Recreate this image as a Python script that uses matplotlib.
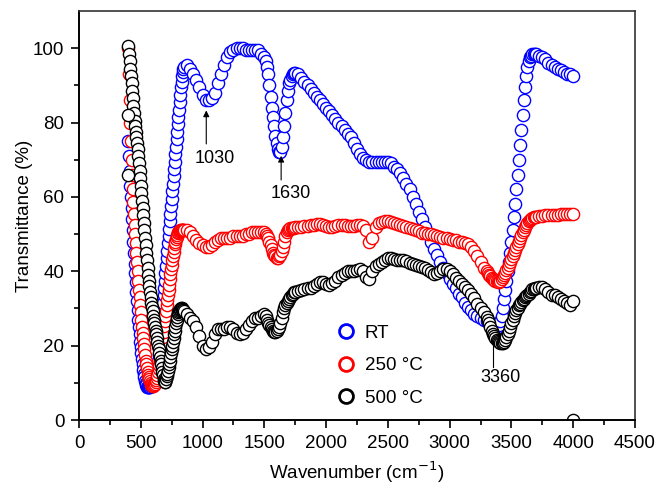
import numpy as np
import matplotlib
matplotlib.use("Agg")
import matplotlib.pyplot as plt
from matplotlib.lines import Line2D

plt.rcParams['font.family'] = ['Liberation Sans', 'DejaVu Sans']

# wavenumber grid (cm-1), finer where the spectra change fast
wn_a = np.arange(400, 850, 5)
wn_b = np.arange(850, 1500, 25)
wn_c = np.arange(1500, 1750, 10)
wn_d = np.arange(1750, 3300, 25)
wn_e = np.arange(3300, 3700, 10)
wn_f = np.arange(3700, 4001, 25)

# RT
rt_a = [75, 71, 67, 63, 60, 57, 54, 51, 48, 45,
        42, 39.5, 37, 34.5, 32, 29.5, 27, 25, 23, 21,
        19.5, 18, 16.5, 15, 13.5, 12.5, 11.5, 10.5, 10, 9.5,
        9, 9, 9, 9, 9, 9, 9.2, 9.3, 9.5, 9.8,
        10, 10.3, 10.7, 11.2, 11.8, 12.5, 13.5, 14.5, 16, 17.5,
        19.5, 21.5, 23.5, 25.5, 27.5, 29.5, 31.5, 33.5, 35.5, 37.5,
        39.5, 41.5, 43.5, 45.5, 47.5, 49.5, 51.5, 53.5, 55.5, 57.5,
        59.5, 61.5, 63.5, 65.5, 67.5, 69.5, 71.5, 73.5, 75.5, 77.5,
        79.5, 81.5, 83.5, 85.5, 87.5, 89.5, 91, 92.5, 93.5, 94.5]
rt_b = [95, 95.5, 94.5, 93, 91.5, 89.5, 87.5, 86, 86, 86.5,
        88, 90.5, 93, 95.5, 97.5, 99, 99.5, 100, 100, 100,
        99.5, 99.5, 99.5, 99.5, 99.5, 98.5]
rt_c = [97.5, 96.5, 95, 93, 90, 87, 84, 81.5, 79, 76.5,
        74.5, 73, 72, 72, 73.5, 76, 79, 82.5, 86, 88.5,
        90.5, 91.5, 92.5, 93, 93.3]
rt_d = [93.3, 93, 92, 91, 90, 89, 88, 87, 86, 85,
        84, 83, 82, 81, 80, 79, 78, 77, 76, 74.5,
        73, 71.5, 70.5, 70, 69.5, 69.5, 69.5, 69.5, 69.5, 69.5,
        69.5, 69, 68, 67.5, 66.5, 65, 63.5, 62, 60, 58,
        56, 54, 52, 50, 48, 46, 44.5, 42.5, 41, 39.5,
        38, 36.5, 35.5, 34, 33, 31.5, 30.5, 29.5, 28.5, 28,
        27.5, 27]
rt_e = [26.5, 26.3, 26, 26, 25.8, 25.5, 25.3, 25, 25, 25,
        25.5, 26.5, 28, 30, 32.5, 35, 37.5, 40, 42.5, 45,
        48, 51, 54.5, 58, 62, 66, 70, 74, 78, 82,
        86, 89.5, 92.5, 95, 96.5, 97.5, 98, 98.5, 98.5, 98.5]
rt_f = [98.5, 98, 97.5, 97, 96, 95.5, 95, 94.5, 94, 93.5, 93, 93, 92.5]

# 250 C
t250_a = [100, 93, 86, 80, 75, 70, 66, 62, 58.5, 55.5,
          52.5, 50, 47.5, 45, 42.5, 40, 37.5, 35, 33, 31,
          29, 27, 25, 23.5, 22, 20.5, 19, 17.5, 16, 15,
          14, 13, 12, 11.5, 11, 10.5, 10, 9.5, 9.3, 9.2,
          9.2, 9.3, 9.5, 9.8, 10.2, 10.7, 11.3, 12, 12.8, 13.7,
          14.7, 15.8, 17, 18.3, 19.6, 21, 22.4, 23.8, 25.2, 26.6,
          28, 29.4, 30.8, 32.2, 33.6, 35, 36.4, 37.8, 39.2, 40.5,
          41.8, 43, 44.2, 45.3, 46.3, 47.2, 48, 48.7, 49.3, 49.8,
          50.2, 50.5, 50.7, 50.9, 51, 51, 51, 51, 51, 51]
t250_b = [51, 51, 50.5, 49.5, 48.5, 47.5, 47, 46.5, 46.5, 47,
          48, 48.5, 49, 49, 49, 49, 49.5, 49.5, 49.5, 49.5,
          50, 50, 50.5, 50.5, 50.5, 50.5]
t250_c = [50.5, 50, 49.5, 49, 48, 47, 46, 45, 44.5, 44,
          43.7, 43.7, 44, 44.5, 45.5, 46.5, 48, 49.5, 50.5, 51,
          51.5, 51.7, 51.7, 51.7, 51.7]
t250_d = [51.8, 52, 52, 52.2, 52.3, 52.4, 52.5, 52.6, 52.6, 52.5,
          52.3, 52, 52, 52.3, 52.5, 52.5, 52.5, 52.3, 52.3, 52.3,
          52.5, 52.5, 52.3, 51, 48, 49, 52, 53, 53.3, 53.5,
          53.5, 53.3, 53, 52.8, 52.5, 52.3, 52, 51.7, 51.3, 51,
          50.7, 50.4, 50.2, 50, 50, 49.7, 49.5, 49.3, 49, 49,
          48.8, 48.5, 48.3, 48, 47.8, 47.6, 47.3, 46.5, 45.5, 44,
          42.5, 41]
t250_e = [40, 39.5, 39, 38.7, 38.3, 38, 37.7, 37.5, 37.3, 37.2,
          37.2, 37.3, 37.8, 38.5, 39, 39.5, 40.3, 41, 41.8, 42.6,
          43.4, 44.2, 45, 45.8, 46.6, 47.4, 48.2, 49, 49.8, 50.5,
          51.2, 51.8, 52.4, 53, 53.4, 53.8, 54.1, 54.3, 54.5, 54.6]
t250_f = [54.7, 54.8, 54.8, 55, 55, 55, 55, 55.2, 55.3, 55.3, 55.4, 55.5, 55.5]

# 500 C
t500_a = [100.5, 98.5, 96.5, 94.5, 92.5, 90.5, 88.5, 86.5, 84.5, 82.5,
          80.5, 79, 77.5, 76, 74.5, 73, 71, 69, 67, 65,
          63, 61, 59, 57, 55, 53, 51, 49, 47, 45,
          43, 41, 39, 37.5, 36, 34.5, 33, 31.5, 30.3, 29.2,
          28, 27, 26, 25, 24, 23, 22, 21, 20, 19,
          18, 17, 16, 15, 14, 13, 12, 11, 10.5, 10.2,
          10.3, 11, 11.7, 12.5, 13.3, 14.2, 15.1, 16, 17, 18,
          19, 20, 21, 22, 23, 24, 25, 26, 27, 27.8,
          28.5, 29, 29.4, 29.7, 29.9, 30, 30, 29.9, 29.7, 29.5]
t500_b = [29.3, 28.5, 27.5, 26.5, 25, 22.5, 20, 19, 19.5, 21,
          23, 24.5, 24.5, 24.5, 25, 25, 24.5, 23.5, 23, 23.5,
          24.5, 25.5, 26.5, 27.5, 27.5, 28]
t500_c = [28.5, 28, 27, 26, 25.5, 25, 24.5, 24, 23.8, 23.8,
          24, 24.5, 25, 26, 27.5, 29, 30, 30.8, 31.4, 32,
          32.5, 33, 33.5, 34, 34.3]
t500_d = [34.5, 34.7, 35, 35.2, 35.5, 35.5, 36, 36.5, 37, 37,
          36.7, 36.3, 36.8, 37.5, 38.5, 39, 39.5, 40, 40, 40,
          40.3, 40.5, 40.2, 38.5, 38, 40, 41.5, 42, 42.5, 43,
          43.5, 43.5, 43.3, 43, 43, 43, 42.7, 42.3, 42, 41.7,
          41.5, 41.2, 41, 40.3, 39.7, 39.3, 39.5, 40, 40.5, 40.5,
          40.2, 39.3, 38.3, 37.3, 36.5, 35.7, 35, 34, 32.7, 31.3,
          30, 29]
t500_e = [27.8, 27, 26, 25, 24, 23.2, 22.5, 22, 21.5, 21.2,
          21, 20.8, 20.7, 20.7, 21, 21.5, 22.2, 23, 24, 25,
          26, 27, 28, 28.8, 29.5, 30.2, 30.8, 31.3, 31.8, 32.2,
          32.6, 33, 33.3, 33.6, 34, 34.4, 34.8, 35.1, 35.3, 35.5]
t500_f = [35.6, 35.7, 35.7, 35.3, 34.5, 33.5, 33.5, 33, 32.5, 32, 31.5, 31, 32]
# stray points of the 500 C record
t500_extra_wn = [400, 400, 4000]
t500_extra = [82, 66, 0]

wn = np.concatenate([wn_a, wn_b, wn_c, wn_d, wn_e, wn_f])
rt = np.concatenate([rt_a, rt_b, rt_c, rt_d, rt_e, rt_f])
t250 = np.concatenate([t250_a, t250_b, t250_c, t250_d, t250_e, t250_f])
t500 = np.concatenate([t500_a, t500_b, t500_c, t500_d, t500_e, t500_f])

labels = ["RT", "250 °C", "500 °C"]
colors = ["#0000ff", "#ff0000", "#000000"]

fig = plt.figure(figsize=(6.6, 4.86), dpi=100)
ax = fig.add_axes([0.1197, 0.1358, 0.8424, 0.8416])

mk = dict(marker='o', ls='none', ms=8.8, mfc='white', mew=1.0)
ax.plot(wn, rt, mec=colors[0], **mk)
ax.plot(wn, t250, mec=colors[1], **mk)
ax.plot(wn, t500, mec=colors[2], **mk)
ax.plot(t500_extra_wn, t500_extra, mec=colors[2], **mk)

# peak labels
arrow = dict(arrowstyle='-|>', color='black', lw=0.8, mutation_scale=9)
ax.annotate('', xy=(1030, 84), xytext=(1030, 73.5), arrowprops=arrow)
ax.text(1100, 70.2, '1030', ha='center', va='center', fontsize=13)
ax.annotate('', xy=(1636, 71.8), xytext=(1636, 63.8), arrowprops=arrow)
ax.text(1717, 60.8, '1630', ha='center', va='center', fontsize=13)
ax.plot([3350, 3350], [14.2, 21], color='black', lw=0.8)
ax.text(3409, 11.3, '3360', ha='center', va='center', fontsize=13)

ax.set_xlim(0, 4500)
ax.set_ylim(0, 110)
ax.set_xticks(np.arange(0, 4501, 500))
ax.set_xticks(np.arange(0, 4501, 250), minor=True)
ax.set_yticks(np.arange(0, 101, 20))
ax.set_yticks(np.arange(0, 101, 10), minor=True)
ax.tick_params(which='major', length=5.5, width=1.2, labelsize=13.5, pad=5,
               top=False, right=False)
ax.tick_params(which='minor', length=3.5, width=1.2, top=False, right=False)
for s in ['left', 'bottom']:
    ax.spines[s].set_linewidth(1.4)
for s in ['top', 'right']:
    ax.spines[s].set_linewidth(1.2)
    ax.spines[s].set_color('#333333')

ax.set_xlabel("Wavenumber (cm$^{-1}$)", fontsize=13.5, labelpad=6)
ax.set_ylabel("Transmittance (%)", fontsize=13.5, labelpad=0)

handles = [Line2D([], [], marker='o', ls='none', ms=10, mfc='white', mew=2,
                  mec=c) for c in colors]
ax.legend(handles, labels, loc='upper left', bbox_to_anchor=(0.463, 0.233),
          frameon=False, fontsize=13.5, handlelength=1, handletextpad=0.5,
          labelspacing=0.82, borderpad=0, borderaxespad=0)

fig.savefig("out.png", dpi=100)
